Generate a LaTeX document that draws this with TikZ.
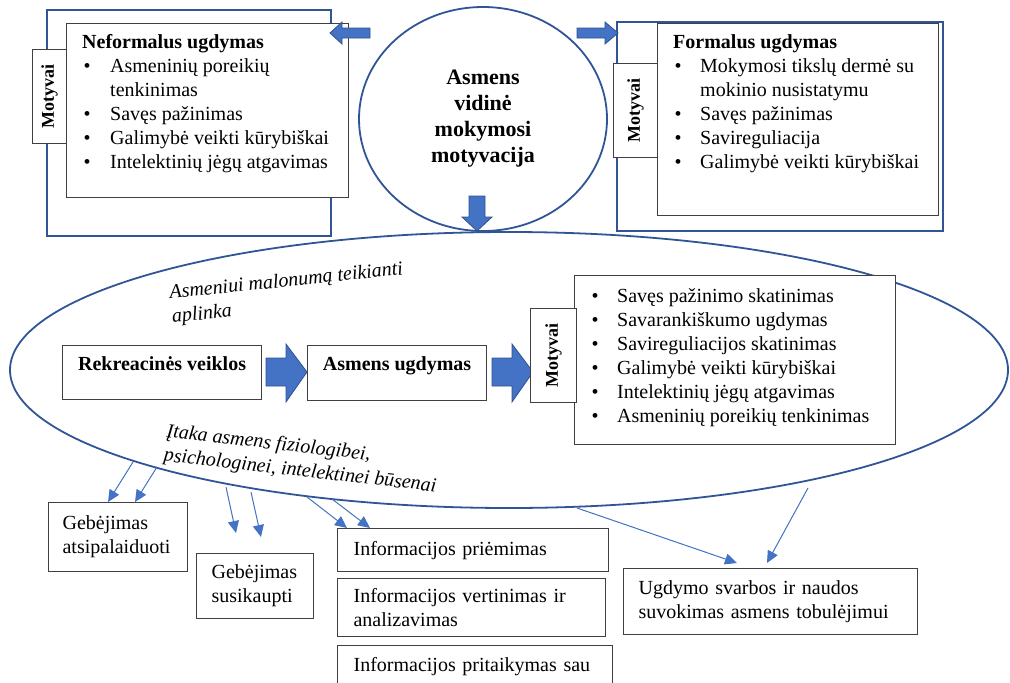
\documentclass[tikz,border=0pt]{standalone}
\usepackage{fontspec}
\usepackage{graphicx}
\setmainfont{Liberation Serif}
\usetikzlibrary{arrows.meta,calc,shapes.geometric}
\definecolor{bluedark}{HTML}{2F5597}
\definecolor{bluemid}{HTML}{4472C4}
\definecolor{blueedge}{HTML}{2F528F}
\definecolor{boxgray}{HTML}{404040}
\newcommand{\bulmark}[1][28pt]{\makebox[#1][l]{\hspace{1.5pt}\textbullet}}
\tikzset{
  bluerect/.style={draw=bluedark, line width=2pt},
  graybox/.style={draw=boxgray, line width=1.2pt, fill=white, inner sep=0pt},
  tabbox/.style={graybox, minimum width=#1, font=\fontsize{18}{22}\selectfont\bfseries, anchor=north west},
  listtext/.style={inner sep=0pt, font=\fontsize{20}{24}\selectfont, anchor=base west},
  blockarrow/.style={fill=bluemid, draw=blueedge, line width=0.8pt},
  thinarrow/.style={draw=bluemid, line width=1pt, -{Triangle[length=12pt,width=11pt]}},
  ital/.style={inner sep=0pt, font=\fontsize{20}{24}\selectfont\itshape, anchor=base west},
  bottombox/.style={graybox, align=left, font=\fontsize{20}{24}\selectfont, anchor=north west},
  flowbox/.style={graybox, anchor=north west, font=\fontsize{20}{24}\selectfont\bfseries, text height=14pt, text depth=19pt},
  blueell/.style={ellipse, draw=bluedark, line width=1.8pt, inner sep=0pt},
}
\begin{document}
\begin{tikzpicture}[x=1pt,y=-1pt]
\useasboundingbox (0,0) rectangle (1010,683);

% big environment ellipse
\node[blueell, minimum width=998pt, minimum height=276pt] (env) at (509,370) {};

% outer blue frames
\draw[bluerect] (47,10) rectangle (331,236);
\draw[bluerect] (617,22) rectangle (943,231);

% top-left box
\node[graybox, anchor=north west, minimum width=282pt, minimum height=174pt] (nfbox) at (66,23) {};
\node[tabbox=34pt, minimum height=94pt] (tabL) at (32,49) {\rotatebox{90}{Motyvai}};
\node[listtext] (nfL) at (82,48) {\begin{tabular}[t]{@{}l@{}l@{}}
\multicolumn{2}{@{}l@{}}{\textbf{Neformalus ugdymas}}\\
\bulmark & Asmeninių poreikių\\
 & tenkinimas\\
\bulmark & Savęs pažinimas\\
\bulmark & Galimybė veikti kūrybiškai\\
\bulmark & Intelektinių jėgų atgavimas
\end{tabular}};

% top-right box
\node[graybox, anchor=north west, minimum width=281pt, minimum height=192pt] (fbox) at (657,23) {};
\node[tabbox=44pt, minimum height=94pt] (tabR) at (613,63) {\rotatebox{90}{Motyvai}};
\node[listtext] (fL) at (673,48) {\begin{tabular}[t]{@{}l@{}l@{}}
\multicolumn{2}{@{}l@{}}{\textbf{Formalus ugdymas}}\\
\bulmark[27pt] & Mokymosi tikslų dermė su\\
 & mokinio nusistatymu\\
\bulmark[27pt] & Savęs pažinimas\\
\bulmark[27pt] & Savireguliacija\\
\bulmark[27pt] & Galimybė veikti kūrybiškai
\end{tabular}};

% central motivation ellipse
\node[blueell, minimum width=248pt, minimum height=224pt, align=center,
      font=\fontsize{22}{26}\selectfont\bfseries] (mot) at (483,119)
      {Asmens\\vidinė\\mokymosi\\motyvacija};

% block arrows at top
\filldraw[blockarrow] (370,28) -- (342,28) -- (342,22) -- (330,33) -- (342,44) -- (342,38) -- (370,38) -- cycle;
\filldraw[blockarrow] (577,28) -- (605,28) -- (605,22) -- (618,33) -- (605,44) -- (605,38) -- (577,38) -- cycle;
\filldraw[blockarrow] (469,196) -- (485,196) -- (485,217) -- (492,217) -- (477,231) -- (462,217) -- (469,217) -- cycle;

% flow inside environment
\node[flowbox, minimum width=199pt, minimum height=54pt] (rek) at (62,345) {Rekreacinės veiklos};
\node[flowbox, minimum width=179pt, minimum height=55pt] (ugd) at (307,345) {Asmens ugdymas};
\filldraw[blockarrow] (266,358) -- (286,358) -- (286,344) -- (307,372) -- (286,402) -- (286,386) -- (266,386) -- cycle;
\filldraw[blockarrow] (492,358) -- (512,358) -- (512,344) -- (533,372) -- (512,402) -- (512,386) -- (492,386) -- cycle;

\node[graybox, anchor=north west, minimum width=321pt, minimum height=169pt] (mbox) at (574,275) {};
\node[tabbox=46pt, minimum height=94pt] (tabM) at (530,308) {\rotatebox{90}{Motyvai}};
\node[listtext] (mL) at (590,302) {\begin{tabular}[t]{@{}l@{}l@{}}
\bulmark[27pt] & Savęs pažinimo skatinimas\\
\bulmark[27pt] & Savarankiškumo ugdymas\\
\bulmark[27pt] & Savireguliacijos skatinimas\\
\bulmark[27pt] & Galimybė veikti kūrybiškai\\
\bulmark[27pt] & Intelektinių jėgų atgavimas\\
\bulmark[27pt] & Asmeninių poreikių tenkinimas
\end{tabular}};

% italic labels
\node[ital, rotate=6] (envtop) at (170,299) {\begin{tabular}[t]{@{}l@{}}Asmeniui malonumą teikianti\\aplinka\end{tabular}};
\node[ital, rotate=-6.5] (envbot) at (166,437) {\begin{tabular}[t]{@{}l@{}}Įtaka asmens fiziologibei,\\psichologinei, intelektinei būsenai\end{tabular}};

% bottom outcome boxes
\node[bottombox, text width=111pt, inner xsep=14pt, minimum height=69pt] (g1) at (48,502) {Gebėjimas\\atsipalaiduoti};
\node[bottombox, text width=87pt, inner xsep=15pt, minimum height=65pt] (g2) at (196,553) {Gebėjimas\\susikaupti};
\node[bottombox, text width=239pt, inner xsep=16pt, minimum height=43pt] (i1) at (337,528) {Informacijos priėmimas};
\node[bottombox, text width=236pt, inner xsep=16pt, minimum height=58pt] (i2) at (337,578) {Informacijos vertinimas ir\\analizavimas};
\node[bottombox, text width=243pt, inner xsep=16pt, minimum height=43pt] (i3) at (337,645) {Informacijos pritaikymas sau};
\node[bottombox, text width=264pt, inner xsep=15pt, minimum height=66pt] (u1) at (623,568) {Ugdymo svarbos ir naudos\\suvokimas asmens tobulėjimui};

% thin arrows from the environment
\coordinate (s1a) at (133,462);
\coordinate (s1b) at (157,467);
\coordinate (s2a) at (226,487);
\coordinate (s2b) at (251,492);
\coordinate (t2a) at (236,533);
\coordinate (t2b) at (261,537);
\coordinate (s3a) at (307,497);
\coordinate (s3b) at (332,499);
\coordinate (s4a) at (577,508);
\coordinate (s4b) at (808,488);
\coordinate (t4a) at (737,563);
\coordinate (t4b) at (767,563);
\draw[thinarrow] (s1a) -- ($(g1.north west)+(60,0)$);
\draw[thinarrow] (s1b) -- ($(g1.north west)+(87,0)$);
\draw[thinarrow] (s2a) -- (t2a);
\draw[thinarrow] (s2b) -- (t2b);
\draw[thinarrow] (s3a) -- ($(i1.north west)+(10,0)$);
\draw[thinarrow] (s3b) -- ($(i1.north west)+(33,0)$);
\draw[thinarrow] (s4a) -- (t4a);
\draw[thinarrow] (s4b) -- (t4b);
\end{tikzpicture}
\end{document}
